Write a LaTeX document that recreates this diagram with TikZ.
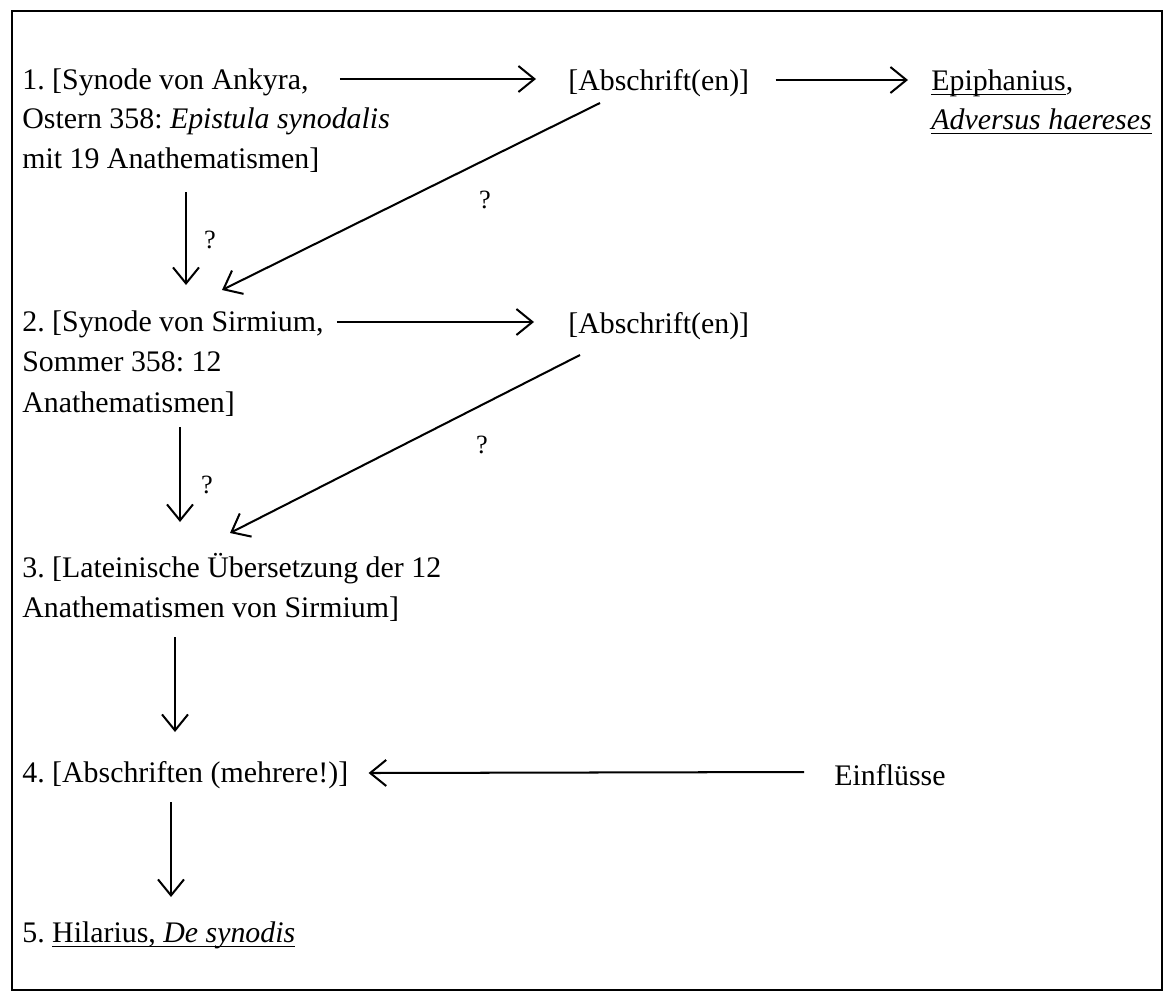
\documentclass[tikz,border=0pt]{standalone}
\usepackage{fontspec}
\setmainfont{Liberation Serif}
\usetikzlibrary{arrows.meta}
\newcommand\myul[1]{\leavevmode\setbox0=\hbox{#1}\rlap{\rule[-3pt]{\wd0}{0.7pt}}\box0}
\frenchspacing
\begin{document}
\begin{tikzpicture}[x=0.02cm,y=-0.02cm,
  txt/.style={anchor=base west,inner sep=0pt,font=\fontsize{17}{23}\selectfont},
  qm/.style={inner sep=0pt,font=\fontsize{15}{18}\selectfont},
  arr/.style={line width=1.15pt,-{Straight Barb[length=3.2mm,width=5.2mm,line width=1.15pt]}},
  frame/.style={line width=1.1pt}]
\useasboundingbox (0,0) rectangle (1168,994);
\draw[frame] (12,11) rectangle (1162,990);
% texts
\node[txt] (n1a) at (22,89) {1. [Synode von Ankyra,};
\node[txt] (n1b) at (22,128) {Ostern 358: \textit{Epistula synodalis}};
\node[txt] (n1c) at (22,168) {mit 19 Anathematismen]};
\node[txt] (ab1) at (568,90) {[Abschrift(en)]};
\node[txt] (ep1) at (931,90) {\myul{Epiphanius},};
\node[txt] (ep2) at (931,129) {\myul{\textit{Adversus haereses}}};
\node[txt] (n2a) at (22,331) {2. [Synode von Sirmium,};
\node[txt] (n2b) at (22,371) {Sommer 358: 12};
\node[txt] (n2c) at (22,412) {Anathematismen]};
\node[txt] (ab2) at (568,333) {[Abschrift(en)]};
\node[txt] (n3a) at (22,577) {3. [Lateinische Übersetzung der 12};
\node[txt] (n3b) at (22,617) {Anathematismen von Sirmium]};
\node[txt] (n4) at (22,782) {4. [Abschriften (mehrere!)]};
\node[txt] (ein) at (834,785) {Einflüsse};
\node[txt] (n5) at (22,942) {5. \myul{Hilarius, \textit{De synodis}}};
% question marks
\node[qm] (q1) at (210,240) {?};
\node[qm] (q2) at (485,200) {?};
\node[qm] (q3) at (482,445) {?};
\node[qm] (q4) at (207,485) {?};
% arrows
\draw[arr] ([shift={(31,-10)}]n1a.base east) -- ([shift={(-32,-11)}]ab1.base west);
\draw[arr] ([shift={(26,-10)}]ab1.base east) -- ([shift={(-23,-10)}]ep1.base west);
\draw[arr] ([shift={(13,-9)}]n2a.base east) -- ([shift={(-34,-11)}]ab2.base west);
\draw[arr] ([shift={(32,13)}]ab1.base west) -- ([shift={(200,-41)}]n2a.base west);
\draw[arr] ([shift={(12,22)}]ab2.base west) -- ([shift={(208,-44)}]n3a.base west);
\draw[arr] ([shift={(164,24)}]n1c.base west) -- ([shift={(164,-46)}]n2a.base west);
\draw[arr] ([shift={(158,15)}]n2c.base west) -- ([shift={(158,-55)}]n3a.base west);
\draw[arr] ([shift={(153,20)}]n3b.base west) -- ([shift={(153,-50)}]n4.base west);
\draw[arr] ([shift={(149,20)}]n4.base west) -- ([shift={(149,-45)}]n5.base west);
\draw[arr] ([shift={(-30,-13)}]ein.base west) -- ([shift={(20,-9)}]n4.base east);
\end{tikzpicture}
\end{document}
